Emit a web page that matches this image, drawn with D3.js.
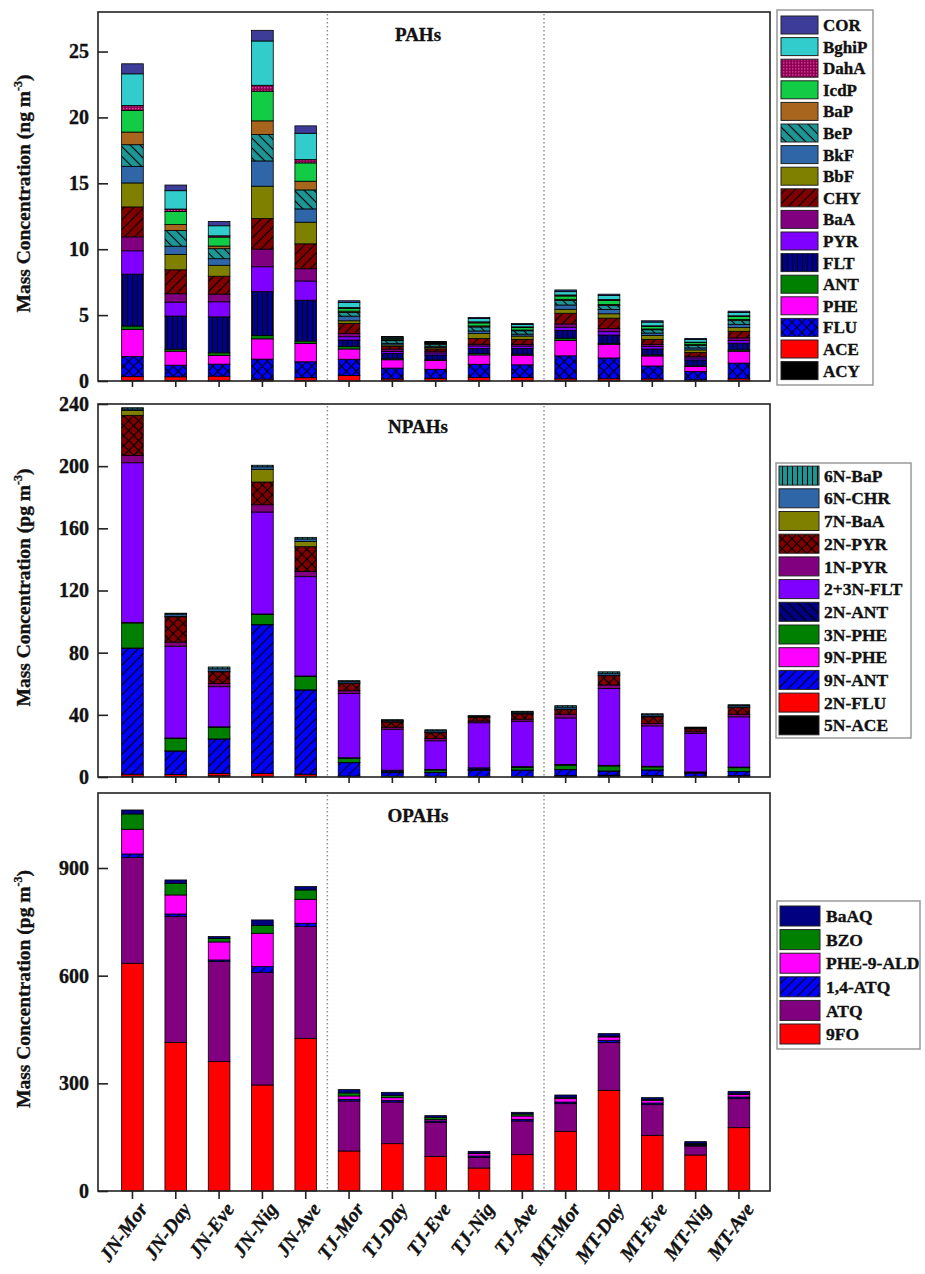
<!DOCTYPE html>
<html><head><meta charset="utf-8">
<script src="https://cdn.jsdelivr.net/npm/d3@7"></script>
<style>
body{margin:0;background:#fff}
svg{display:block}
text{font-family:"Liberation Serif","Times New Roman",serif;font-weight:bold;fill:#111;stroke:#111;stroke-width:0.35px}
</style>
</head><body>
<svg id="chart" width="925" height="1274"></svg>
<script>
// ---------------- DATA ----------------
const categories = ['JN-Mor','JN-Day','JN-Eve','JN-Nig','JN-Ave','TJ-Mor','TJ-Day','TJ-Eve','TJ-Nig','TJ-Ave','MT-Mor','MT-Day','MT-Eve','MT-Nig','MT-Ave'];

// PAHs (ng m-3), stacking order bottom -> top
const pahSpecies = ['ACY','ACE','FLU','PHE','ANT','FLT','PYR','BaA','CHY','BbF','BkF','BeP','BaP','IcdP','DahA','BghiP','COR'];
const pahACY   = [0.03,0.02,0.02,0.02,0.02, 0.01,0.01,0.01,0.01,0.01, 0.02,0.02,0.01,0.01,0.02];
const pahACE   = [0.30,0.30,0.35,0.12,0.23, 0.40,0.15,0.20,0.25,0.25, 0.15,0.15,0.15,0.08,0.15];
const pahFLU   = [1.52,0.88,0.91,1.52,1.21, 1.24,0.82,0.68,1.01,0.97, 1.74,1.58,0.98,0.63,1.19];
const pahPHE   = [2.07,1.06,0.66,1.54,1.39, 0.78,0.63,0.66,0.71,0.73, 1.16,1.01,0.76,0.38,0.90];
const pahANT   = [0.25,0.15,0.20,0.25,0.18, 0.18,0.08,0.05,0.10,0.08, 0.18,0.10,0.08,0.05,0.10];
const pahFLT   = [3.94,2.52,2.73,3.33,3.10, 0.50,0.40,0.38,0.38,0.43, 0.58,0.63,0.45,0.45,0.51];
const pahPYR   = [1.77,1.06,1.14,1.89,1.46, 0.25,0.15,0.15,0.20,0.18, 0.25,0.25,0.20,0.15,0.20];
const pahBaA   = [1.06,0.63,0.58,1.34,0.93, 0.25,0.18,0.13,0.13,0.13, 0.25,0.25,0.15,0.13,0.20];
const pahCHY   = [2.27,1.82,1.36,2.32,1.89, 0.76,0.20,0.18,0.43,0.38, 0.81,0.78,0.38,0.28,0.50];
const pahBbF   = [1.82,1.16,0.83,2.45,1.64, 0.20,0.12,0.10,0.38,0.25, 0.30,0.33,0.30,0.20,0.28];
const pahBkF   = [1.26,0.63,0.50,1.92,1.01, 0.35,0.12,0.10,0.20,0.15, 0.33,0.33,0.18,0.15,0.25];
const pahBeP   = [1.64,1.19,0.76,2.00,1.44, 0.28,0.20,0.15,0.30,0.25, 0.33,0.30,0.25,0.20,0.28];
const pahBaP   = [0.96,0.45,0.20,1.04,0.66, 0.10,0.05,0.04,0.08,0.06, 0.10,0.08,0.06,0.05,0.08];
const pahIcdP  = [1.64,1.00,0.68,2.25,1.39, 0.20,0.08,0.06,0.23,0.18, 0.25,0.30,0.18,0.15,0.23];
const pahDahA  = [0.38,0.18,0.10,0.45,0.25, 0.08,0.03,0.02,0.08,0.06, 0.08,0.08,0.06,0.04,0.06];
const pahBghiP = [2.40,1.39,0.76,3.36,2.00, 0.38,0.10,0.04,0.25,0.18, 0.25,0.30,0.28,0.20,0.25];
const pahCOR   = [0.76,0.43,0.33,0.81,0.56, 0.13,0.05,0.04,0.08,0.08, 0.13,0.10,0.10,0.08,0.10];
const pahValues = [pahACY,pahACE,pahFLU,pahPHE,pahANT,pahFLT,pahPYR,pahBaA,pahCHY,pahBbF,pahBkF,pahBeP,pahBaP,pahIcdP,pahDahA,pahBghiP,pahCOR];
const pahTicks = [0,5,10,15,20,25];

// NPAHs (pg m-3), bottom -> top
const npahSpecies = ['5N-ACE','2N-FLU','9N-ANT','9N-PHE','3N-PHE','2N-ANT','2+3N-FLT','1N-PYR','2N-PYR','7N-BaA','6N-CHR','6N-BaP'];
const npah5NACE  = [0.5,0.4,0.8,0.5,0.5, 0.3,0.2,0.3,0.2,0.2, 0.6,0.9,0.6,0.3,0.6];
const npah2NFLU  = [1.3,1.3,1.5,1.7,1.3, 0.3,0.2,0.2,0.2,0.2, 0.3,0.3,0.3,0.2,0.3];
const npah9NANT  = [81.0,15.0,22.1,95.7,54.2, 8.6,2.4,2.4,4.0,4.0, 3.8,2.6,3.6,2.0,2.6];
const npah9NPHE  = [0.2,0.1,0.1,0.2,0.1, 0.1,0.1,0.1,0.1,0.1, 0.1,0.1,0.1,0.1,0.1];
const npah3NPHE  = [16.1,8.0,7.5,6.5,8.6, 2.8,0.4,1.5,0.3,1.7, 2.8,3.2,1.9,0.3,2.4];
const npah2NANT  = [0.3,0.3,0.3,0.3,0.3, 0.3,1.1,0.3,1.1,0.5, 0.5,0.4,0.4,0.4,0.4];
const npah23NFLT = [102.8,59.1,25.8,65.6,63.9, 41.4,26.3,18.5,29.0,29.2, 29.9,49.5,26.0,24.7,32.3];
const npah1NPYR  = [4.7,2.6,2.1,4.7,3.4, 1.7,1.3,1.5,1.1,1.3, 2.4,2.2,1.5,1.1,1.7];
const npah2NPYR  = [25.8,16.3,7.5,14.6,15.9, 4.7,3.4,3.7,2.4,3.4, 3.0,6.0,4.3,1.9,4.3];
const npah7NBaA  = [3.2,0.3,0.3,8.2,3.4, 0.3,0.2,0.2,0.2,0.2, 0.3,0.3,0.3,0.2,0.3];
const npah6NCHR  = [0.9,1.4,1.6,1.6,1.6, 0.9,0.8,1.0,0.5,0.9, 1.3,1.3,1.0,0.5,0.9];
const npah6NBaP  = [0.8,0.6,1.2,1.0,1.0, 0.6,0.5,0.7,0.4,0.6, 0.9,0.9,0.7,0.4,0.6];
const npahValues = [npah5NACE,npah2NFLU,npah9NANT,npah9NPHE,npah3NPHE,npah2NANT,npah23NFLT,npah1NPYR,npah2NPYR,npah7NBaA,npah6NCHR,npah6NBaP];
const npahTicks = [0,40,80,120,160,200,240];

// OPAHs (pg m-3), bottom -> top
const opahSpecies = ['9FO','ATQ','1,4-ATQ','PHE-9-ALD','BZO','BaAQ'];
const opah9FO    = [634.5,414.3,360.5,295.4,425.5, 111.5,131.9,96.6,64.1,101.3, 166.3,280.6,155.1,100.3,176.5];
const opahATQ    = [294.5,350.2,278.7,314.0,311.2, 139.4,116.1,94.8,29.7,93.8, 77.1,132.8,85.5,25.1,80.8];
const opah14ATQ  = [10.2,7.4,4.6,15.8,9.3, 4.6,4.6,3.7,3.7,4.6, 4.6,6.5,4.6,2.8,4.6];
const opahPHE9ALD= [68.7,53.0,50.2,92.9,66.9, 9.3,7.4,3.7,6.5,9.3, 9.3,9.3,7.4,1.9,7.4];
const opahBZO    = [42.7,32.5,9.3,21.4,26.0, 8.4,6.5,5.6,1.9,5.6, 2.8,1.9,1.9,1.9,1.9];
const opahBaAQ   = [11.1,9.3,5.6,15.8,9.3, 9.3,8.4,5.6,4.6,4.6, 7.4,7.4,5.6,5.6,6.5];
const opahValues = [opah9FO,opahATQ,opah14ATQ,opahPHE9ALD,opahBZO,opahBaAQ];
const opahTicks = [0,300,600,900];

// ---------------- STYLES ----------------
const styles = {
  'ACY':{fill:'#000000'}, 'ACE':{fill:'#FF0000'}, 'FLU':{fill:'#0000FF',pat:'cross'},
  'PHE':{fill:'#FF00FF'}, 'ANT':{fill:'#008000'}, 'FLT':{fill:'#000090',pat:'vert'},
  'PYR':{fill:'#8000FF'}, 'BaA':{fill:'#800080'}, 'CHY':{fill:'#800000',pat:'slash'},
  'BbF':{fill:'#808000'}, 'BkF':{fill:'#2E66A8'}, 'BeP':{fill:'#1E9696',pat:'back'},
  'BaP':{fill:'#A8651E'}, 'IcdP':{fill:'#11CC44'}, 'DahA':{fill:'#8A0050',pat:'dots',line:'#FF55BB'},
  'BghiP':{fill:'#33CCCC'}, 'COR':{fill:'#3D3D99'},
  '5N-ACE':{fill:'#000000'}, '2N-FLU':{fill:'#FF0000'}, '9N-ANT':{fill:'#0000FF',pat:'slash'},
  '9N-PHE':{fill:'#FF00FF'}, '3N-PHE':{fill:'#008000'}, '2N-ANT':{fill:'#000080',pat:'back'},
  '2+3N-FLT':{fill:'#8000FF'}, '1N-PYR':{fill:'#800080'}, '2N-PYR':{fill:'#800000',pat:'cross'},
  '7N-BaA':{fill:'#808000'}, '6N-CHR':{fill:'#2E66A8'}, '6N-BaP':{fill:'#1E9696',pat:'vert'},
  '9FO':{fill:'#FF0000'}, 'ATQ':{fill:'#800080'}, '1,4-ATQ':{fill:'#0000FF',pat:'slash'},
  'PHE-9-ALD':{fill:'#FF00FF'}, 'BZO':{fill:'#008000'}, 'BaAQ':{fill:'#000080'}
};

const panels = [
  {species:pahSpecies, values:pahValues, ticks:pahTicks, max:28, top:12, bottom:381, title:'PAHs', unit:'ng',
   legend:{x:777,y:10,w:96,h:375,row0:25,step:21.6,swX:781,swW:37,swH:18,textX:823,fs:17}},
  {species:npahSpecies, values:npahValues, ticks:npahTicks, max:240, top:404, bottom:777, title:'NPAHs', unit:'pg',
   legend:{x:776,y:463,w:135,h:275,row0:475.6,step:22.7,swX:779,swW:40,swH:19,textX:824,fs:17.5}},
  {species:opahSpecies, values:opahValues, ticks:opahTicks, max:1109, top:793, bottom:1191, title:'OPAHs', unit:'pg',
   legend:{x:777,y:901,w:143,h:148,row0:916,step:23.6,swX:780,swW:40,swH:20,textX:826,fs:17.5}}
];

const frameL = 98, frameR = 770;

// ---------------- DRAW ----------------
const svg = d3.select('#chart');
const defs = svg.append('defs');

function patId(name){ return 'p' + name.replace(/[^A-Za-z0-9]/g,'_'); }
function fillOf(name){
  const s = styles[name];
  return s.pat ? `url(#${patId(name)})` : s.fill;
}
Object.keys(styles).forEach(name => {
  const s = styles[name];
  if (!s.pat) return;
  const size = s.pat==='dots' ? 3 : (s.pat==='vert' ? 5 : 7);
  const p = defs.append('pattern').attr('id', patId(name))
    .attr('patternUnits','userSpaceOnUse').attr('width', size).attr('height', size);
  if (s.pat==='slash' || s.pat==='cross') p.attr('patternTransform','rotate(45)');
  if (s.pat==='back') p.attr('patternTransform','rotate(-45)');
  p.append('rect').attr('width',size).attr('height',size).attr('fill',s.fill);
  const lc = s.line || '#000';
  if (s.pat==='dots') {
    p.append('circle').attr('cx',0.8).attr('cy',0.8).attr('r',0.7).attr('fill',lc);
  } else {
    p.append('line').attr('x1',size/2).attr('y1',0).attr('x2',size/2).attr('y2',size)
      .attr('stroke',lc).attr('stroke-width',1.1);
    if (s.pat==='cross') p.append('line').attr('x1',0).attr('y1',size/2).attr('x2',size).attr('y2',size/2)
      .attr('stroke',lc).attr('stroke-width',1.1);
  }
});

const x = d3.scaleBand().domain(categories).range([110.8, 760.6]).paddingInner(0.5).paddingOuter(0.25);

panels.forEach((P, pi) => {
  const rows = categories.map((c, i) => {
    const o = {cat:c};
    P.species.forEach((s, j) => o[s] = P.values[j][i]);
    return o;
  });
  const stacked = d3.stack().keys(P.species)(rows);
  const y = d3.scaleLinear().domain([0, P.max]).range([P.bottom, P.top]);
  const g = svg.append('g');

  // separators
  [4, 9].forEach(k => {
    const xs = (x(categories[k]) + x.bandwidth() + x(categories[k+1])) / 2;
    g.append('line').attr('x1',xs).attr('x2',xs).attr('y1',P.top+2).attr('y2',P.bottom)
      .attr('stroke','#888').attr('stroke-width',1.4).attr('stroke-dasharray','1.5,2.5');
  });

  // bars
  g.selectAll('g.series').data(stacked).join('g').attr('class','series')
    .attr('fill', d => fillOf(d.key))
    .selectAll('rect').data(d => d).join('rect')
    .attr('x', d => x(d.data.cat)).attr('width', x.bandwidth())
    .attr('y', d => y(d[1])).attr('height', d => Math.max(0, y(d[0]) - y(d[1])))
    .attr('stroke','#000').attr('stroke-width',0.8);

  // frame
  g.append('rect').attr('x',frameL).attr('y',P.top).attr('width',frameR-frameL).attr('height',P.bottom-P.top)
    .attr('fill','none').attr('stroke','#222').attr('stroke-width',1.6);

  // y axis
  const ya = g.append('g').attr('transform',`translate(${frameL},0)`)
    .call(d3.axisLeft(y).tickValues(P.ticks).tickSizeInner(-10).tickSizeOuter(0).tickPadding(9));
  ya.select('.domain').remove();
  ya.selectAll('line').attr('stroke','#222').attr('stroke-width',1.6);
  ya.selectAll('text').style('font-size','20px').style('font-family','"Liberation Serif",serif').style('font-weight','bold').attr('fill','#111');

  // x axis
  const last = pi === panels.length - 1;
  const xa = g.append('g').attr('transform',`translate(0,${P.bottom})`)
    .call(d3.axisBottom(x).tickSize(last ? 8 : 6).tickFormat(d => last ? d : ''));
  xa.select('.domain').remove();
  xa.selectAll('line').attr('stroke','#222').attr('stroke-width',1.6);
  if (last) {
    xa.selectAll('text')
      .attr('x',0).attr('y',0).attr('dy',0)
      .attr('transform','translate(16,18) rotate(-54)')
      .style('text-anchor','end')
      .style('font-size','20px').style('font-style','italic')
      .style('font-family','"Liberation Serif",serif').style('font-weight','bold').attr('fill','#111');
  }

  // panel title
  g.append('text').attr('x',418).attr('y',P.top+29).attr('text-anchor','middle')
    .style('font-size','19px').text(P.title);

  // y title
  const yc = (P.top + P.bottom)/2 - 3;
  const t = g.append('text').attr('transform',`translate(30,${yc}) rotate(-90)`).attr('text-anchor','middle')
    .style('font-size','19.5px');
  t.append('tspan').text(`Mass Concentration (${P.unit} m`);
  t.append('tspan').attr('dy',-8).style('font-size','12px').text('-3');
  t.append('tspan').attr('dy',8).text(')');

  // legend
  const L = P.legend;
  g.append('rect').attr('x',L.x).attr('y',L.y).attr('width',L.w).attr('height',L.h)
    .attr('fill','#fff').attr('stroke','#999').attr('stroke-width',1.5);
  const items = P.species.slice().reverse();
  const lg = g.selectAll('g.leg').data(items).join('g').attr('class','leg')
    .attr('transform', (d,i) => `translate(0,${L.row0 + i*L.step})`);
  lg.append('rect').attr('x',L.swX).attr('y',-L.swH/2).attr('width',L.swW).attr('height',L.swH)
    .attr('fill', d => fillOf(d)).attr('stroke','#222').attr('stroke-width',1);
  lg.append('text').attr('x',L.textX).attr('y',0).attr('dy','0.35em')
    .style('font-size',L.fs+'px').text(d => d);
});
</script>
</body></html>
